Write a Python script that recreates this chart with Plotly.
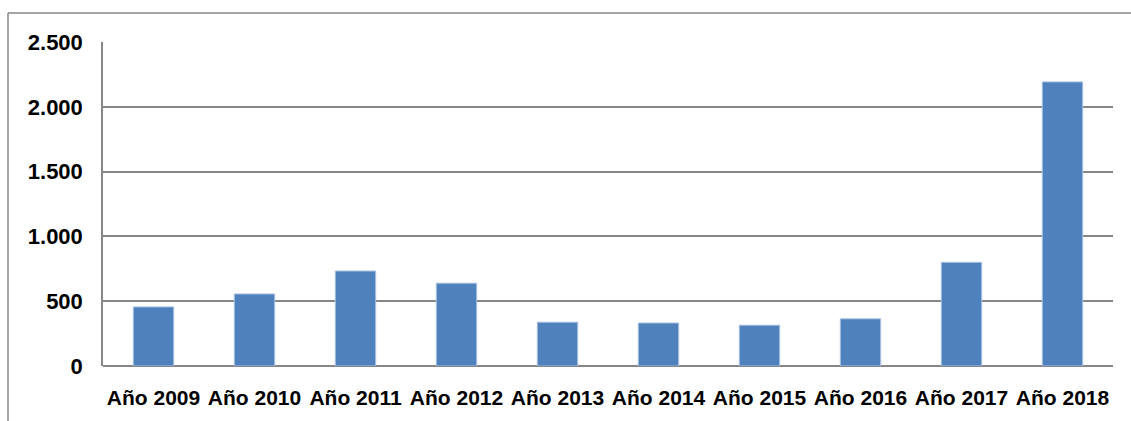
import plotly.graph_objects as go

categories = ["Año 2009", "Año 2010", "Año 2011", "Año 2012", "Año 2013",
              "Año 2014", "Año 2015", "Año 2016", "Año 2017", "Año 2018"]
values = [456, 556, 733, 639, 338, 332, 315, 364, 800, 2192]
y_ticks = [0, 500, 1000, 1500, 2000, 2500]

W, H = 1131, 421
L, R, T, B = 103, 1113, 42, 366

fig = go.Figure()
fig.add_trace(go.Bar(
    x=categories, y=values,
    marker=dict(color="#4F81BD", line=dict(color="#A9C1E0", width=1)),
    width=0.4,
))

xfont = dict(family="Liberation Sans, Arial, sans-serif", size=21, color="#000000", weight="bold")
yfont = dict(family="Liberation Sans, Arial, sans-serif", size=22, color="#000000", weight="bold")

def px(xp):
    return (xp - L) / (R - L)

def py(yp):
    return (B - yp) / (B - T)

fig.update_layout(
    width=W, height=H,
    margin=dict(l=L, r=W - R, t=T, b=H - B, pad=0),
    paper_bgcolor="white", plot_bgcolor="white",
    separators=",.",
    showlegend=False,
    xaxis=dict(
        type="category", showgrid=False, zeroline=False,
        showline=False, ticks="", tickfont=xfont,
        ticklabelstandoff=17,
    ),
    yaxis=dict(
        range=[0, 2500], tickvals=y_ticks, tickformat=",d",
        showgrid=True, gridcolor="#878787", gridwidth=1.5,
        zeroline=True, zerolinecolor="#878787", zerolinewidth=1.5,
        showline=True, linecolor="#878787", linewidth=1.5,
        ticks="", tickfont=yfont,
        ticklabelstandoff=14,
    ),
    shapes=[
        dict(type="line", xref="paper", yref="paper",
             x0=px(8), x1=px(8), y0=py(13), y1=py(H + 5),
             line=dict(color="#878787", width=1.5)),
        dict(type="line", xref="paper", yref="paper",
             x0=px(8), x1=px(W + 5), y0=py(13), y1=py(13),
             line=dict(color="#878787", width=1.5)),
    ],
)

fig.write_html("out.html")
